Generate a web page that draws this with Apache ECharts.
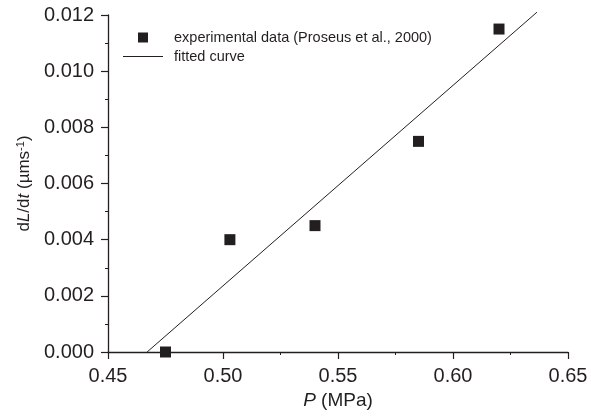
<!DOCTYPE html>
<html>
<head>
<meta charset="utf-8">
<script src="https://cdn.jsdelivr.net/npm/echarts@6/dist/echarts.min.js"></script>
<style>
	html, body { margin: 0; padding: 0; background: #fff; }
	#chart { width: 591px; height: 416px; }
</style>
</head>
<body>
<div id="chart"></div>
<script>
//Measured points, pressure (MPa) and growth rate
let pressure = [0.475, 0.503, 0.540, 0.585, 0.620];
let growthRate = [0.0000, 0.0040, 0.0045, 0.0075, 0.0115];
//Fitted straight line, two end points
let fitPressure = [0.467, 0.6365];
let fitRate = [0.0000, 0.0121];

let seriesNames = ['experimental data (Proseus et al., 2000)', 'fitted curve'];

let ink = '#231f20';
let font = 'Liberation Sans';

function pairs(xs, ys) {
	let out = [];
	for (let i = 0; i < xs.length; i++) {
		out.push([xs[i], ys[i]]);
	}
	return out;
}

let chart = echarts.init(document.getElementById('chart'));

let axisCommon = {
	axisLine: { lineStyle: { color: ink, width: 1.3 } },
	axisTick: { inside: false, length: 7, lineStyle: { color: ink, width: 1.2 } },
	minorTick: { show: true, splitNumber: 2, length: 3, lineStyle: { color: ink, width: 1 } },
	splitLine: { show: false },
	nameLocation: 'middle'
};

chart.setOption({
	animation: false,
	backgroundColor: '#fff',
	grid: { left: 108, right: 23, top: 15, bottom: 64 },
	legend: {
		orient: 'vertical',
		left: 118,
		top: 25,
		itemWidth: 40,
		itemHeight: 10,
		itemGap: 4,
		textStyle: { color: ink, fontFamily: font, fontSize: 14.5, padding: [0, 0, 0, 6] },
		data: [
			{ name: seriesNames[0], icon: 'path://M0,0h10v10h-10z' },
			{ name: seriesNames[1], icon: 'path://M0,0h40v1h-40z' }
		]
	},
	xAxis: Object.assign({}, axisCommon, {
		type: 'value',
		min: 0.45,
		max: 0.65,
		interval: 0.05,
		name: '{i|P} (MPa)',
		nameGap: 35,
		nameTextStyle: {
			color: ink, fontFamily: font, fontSize: 19,
			rich: { i: { fontStyle: 'italic', fontFamily: font, fontSize: 19, color: ink } }
		},
		axisLabel: {
			color: ink, fontFamily: font, fontSize: 20, margin: 14,
			formatter: function (v) { return v.toFixed(2); }
		}
	}),
	yAxis: Object.assign({}, axisCommon, {
		type: 'value',
		min: 0,
		max: 0.012,
		interval: 0.002,
		name: 'd{i|L}/d{i|t} (\u00b5ms{s|-1})',
		nameGap: 72,
		nameTextStyle: {
			color: ink, fontFamily: font, fontSize: 17,
			rich: {
				i: { fontStyle: 'italic', fontFamily: font, fontSize: 17, color: ink },
				s: { fontFamily: font, fontSize: 11, color: ink, verticalAlign: 'top', padding: [0, 0, 8, 0] }
			}
		},
		axisLabel: {
			color: ink, fontFamily: font, fontSize: 20, margin: 14,
			formatter: function (v) { return v.toFixed(3); }
		}
	}),
	series: [
		{
			name: seriesNames[0],
			type: 'scatter',
			symbol: 'rect',
			symbolSize: 11,
			itemStyle: { color: ink, opacity: 1 },
			data: pairs(pressure, growthRate)
		},
		{
			name: seriesNames[1],
			type: 'line',
			symbol: 'none',
			clip: false,
			lineStyle: { color: ink, width: 1 },
			itemStyle: { color: ink },
			data: pairs(fitPressure, fitRate)
		}
	]
});
</script>
</body>
</html>
